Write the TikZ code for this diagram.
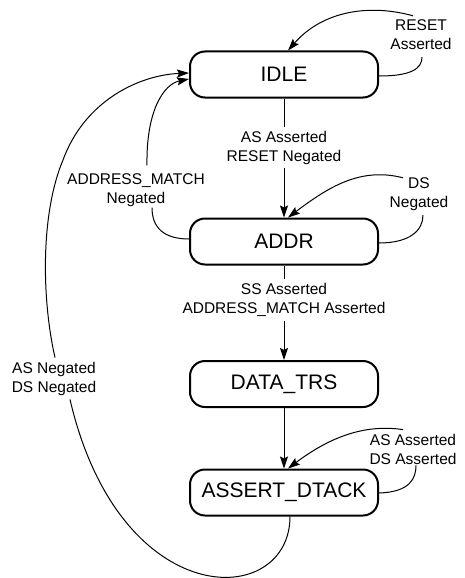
\documentclass[tikz,border=0pt]{standalone}
\usepackage{fontspec}
\setmainfont{Liberation Sans}
\usetikzlibrary{arrows.meta}
\begin{document}
\begin{tikzpicture}[x=1pt,y=-1pt,
  state/.style={draw, line width=2pt, rounded corners=15pt,
    minimum width=188pt, minimum height=46pt, inner sep=0pt,
    font=\fontsize{21}{25}\selectfont},
  cond/.style={align=center, inner sep=4pt,
    font=\fontsize{15.5}{19}\selectfont},
  ln/.style={line width=1pt},
  tr/.style={line width=1pt, -{Stealth[length=12pt,width=8pt,inset=2pt]}}]
\useasboundingbox (0,0) rectangle (464,578);

% states
\node[state] (idle)  at (284,74.5)  {IDLE};
\node[state] (addr)  at (284,241.5) {ADDR};
\node[state] (data)  at (284,384)   {DATA\_TRS};
\node[state] (dtack) at (284,492.5) {ASSERT\_DTACK};

% transition conditions
\node[cond] (c1) at (421,35)    {RESET\\Asserted};
\node[cond] (c2) at (284,147.5) {AS Asserted\\RESET Negated};
\node[cond] (c3) at (136,190)   {ADDRESS\_MATCH\\Negated};
\node[cond] (c4) at (419,194.5) {DS\\Negated};
\node[cond] (c5) at (284,300)   {SS Asserted\\ADDRESS\_MATCH Asserted};
\node[cond] (c6) at (54,378.5)  {AS Negated\\DS Negated};
\node[cond] (c7) at (413,449)   {AS Asserted\\DS Asserted};

\coordinate (bend) at (63,160);

% main chain
\draw[ln] (idle.south) -- (c2.north);
\draw[tr] (c2.south) -- (addr.north);
\draw[ln] (addr.south) -- (c5.north);
\draw[tr] (c5.south) -- (data.north);
\draw[tr] (data.south) -- (dtack.north);

% IDLE self loop
\draw[ln] ([yshift=-1.5pt]idle.east) .. controls +(31,0) and +(0,12) .. ([xshift=1pt,yshift=-3pt]c1.south);
\draw[tr] ([xshift=-8pt]c1.north) .. controls +(-43,-12) and +(35,-40) .. ([xshift=4pt]idle.north);

% ADDR self loop
\draw[ln] ([yshift=-1.5pt]addr.east) .. controls +(31,0) and +(0,15) .. ([xshift=4pt]c4.south);
\draw[tr] ([xshift=-16pt,yshift=-4pt]c4.north) .. controls +(-43,-11) and +(40,-30) .. ([xshift=4pt]addr.north);

% ADDR back to IDLE
\draw[ln] ([yshift=2.5pt]addr.west) .. controls +(-25,0) and +(0,20) .. ([xshift=16pt,yshift=3pt]c3.south);
\draw[tr] ([xshift=11pt,yshift=4pt]c3.north) .. controls +(-1,-55) and +(-25,5) .. ([yshift=-4.5pt]idle.west);

% ASSERT_DTACK self loop
\draw[ln] ([yshift=-0.5pt]dtack.east) .. controls +(31,-1) and +(0,13) .. ([xshift=3pt,yshift=3pt]c7.south);
\draw[tr] ([xshift=-10pt]c7.north) .. controls +(-40,-6) and +(40,-30) .. ([xshift=4pt]dtack.north);

% ASSERT_DTACK back to IDLE
\draw[ln] ([xshift=6pt]dtack.south) .. controls +(0,93) and +(50,215) .. ([xshift=16pt]c6.south);
\draw[tr] ([xshift=1pt]c6.north) .. controls +(-13,-57) and +(-23,55) .. (bend)
  .. controls +(22,-60) and +(-49,2) .. ([yshift=1.5pt]idle.west);
\end{tikzpicture}
\end{document}
